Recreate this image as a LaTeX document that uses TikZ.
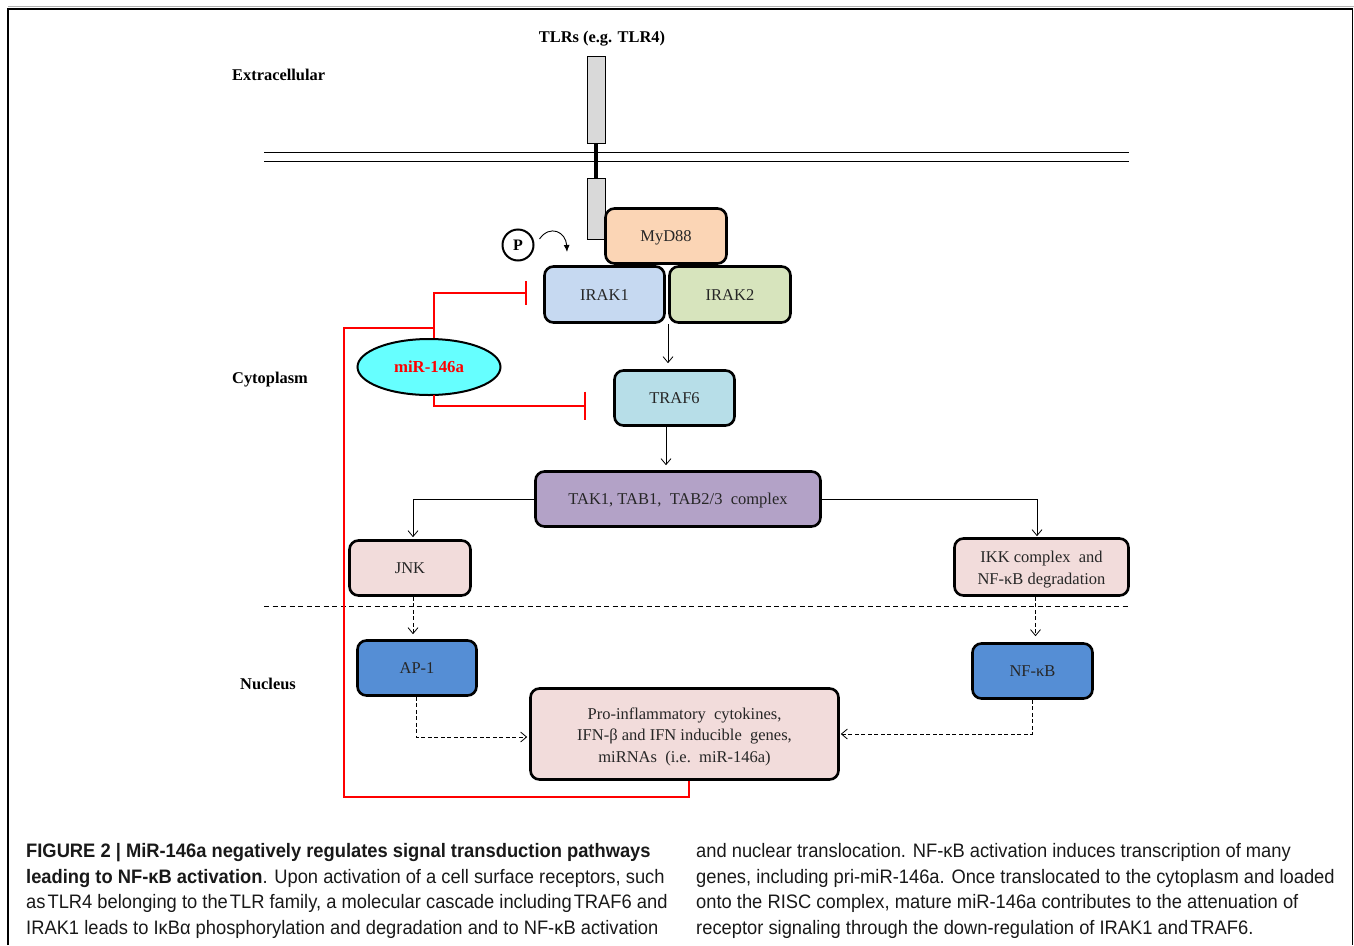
\documentclass[tikz,border=0pt]{standalone}
\usepackage{fontspec}
\setmainfont{Liberation Serif}
\newfontfamily\capfont[FakeStretch=0.94]{Liberation Sans}
\usetikzlibrary{arrows.meta,shapes.geometric,calc}
\definecolor{cmyd}{HTML}{FBD5B5}
\definecolor{cirak1}{HTML}{C6D9F1}
\definecolor{cirak2}{HTML}{D7E4BD}
\definecolor{ctraf}{HTML}{B7DEE8}
\definecolor{ctak}{HTML}{B3A2C7}
\definecolor{cpink}{HTML}{F2DCDB}
\definecolor{cblue}{HTML}{558ED5}
\definecolor{ccyan}{HTML}{66FFFF}
\definecolor{ctlr}{HTML}{D9D9D9}
\definecolor{cred}{HTML}{FF0000}
\begin{document}
\begin{tikzpicture}[x=1pt,y=-1pt,
  box/.style={draw, line width=2.6pt, rounded corners=9pt, inner sep=2pt, align=center,
    font=\fontsize{16.5}{21.5}\selectfont, text=black!85},
  oneline/.style={text height=11pt, text depth=0pt},
  arr/.style={line width=0.8pt, -{Straight Barb[length=6pt,width=10pt]}},
  darr/.style={arr, dash pattern=on 4pt off 2.5pt},
  redl/.style={draw=cred, line width=2pt},
  lbl/.style={font=\fontsize{16.4}{18}\selectfont\bfseries, anchor=west, inner sep=0, text height=11pt, text depth=0pt},
  tlr/.style={draw, line width=0.8pt, fill=ctlr, minimum width=18pt, inner sep=0},
  captxt/.style={font=\capfont\fontsize{19.5}{25}\selectfont, anchor=base west, inner sep=0, text=black!90}
]
\useasboundingbox (0,0) rectangle (1354,945);
% frame
\draw[gray!60, line width=1.5pt] (8,6.5) -- (1354,6.5);
\draw[line width=1.3pt] (8,945) -- (8,9) -- (1352.5,9) -- (1352.5,945);

% labels
\node[lbl, anchor=center] (tlrlbl) at (602,37) {TLRs (e.g. TLR4)};
\node[lbl] (extra) at (232,75) {Extracellular};
\node[lbl] (cyto) at (232,378) {Cytoplasm};
\node[lbl] (nucl) at (240,684) {Nucleus};

% membrane
\draw[line width=1pt] (264,152.5) -- (1129,152.5);
\draw[line width=1pt] (264,161) -- (1129,161);

% receptor
\node[tlr, minimum height=87pt] (tlrup) at (596,99.5) {};
\node[tlr, minimum height=61pt] (tlrlow) at (596,209) {};
\draw[line width=4pt] (tlrup.south) -- (tlrlow.north);

% boxes
\node[box, oneline, fill=cmyd, minimum width=121pt, minimum height=55pt] (myd) at (666,236) {MyD88};
\node[box, oneline, fill=cirak1, minimum width=120pt, minimum height=56pt] (irak1) at (604.5,294.5) {IRAK1};
\node[box, oneline, fill=cirak2, minimum width=121pt, minimum height=56pt] (irak2) at (730,294.5) {IRAK2};
\node[box, oneline, fill=ctraf, minimum width=120pt, minimum height=55pt] (traf) at (674.5,398) {TRAF6};
\node[box, oneline, fill=ctak, minimum width=285pt, minimum height=55pt] (tak) at (678,499) {TAK1, TAB1,\ \ TAB2/3\ \ complex};
\node[box, oneline, fill=cpink, minimum width=121pt, minimum height=55pt] (jnk) at (410,568) {JNK};
\node[box, fill=cpink, minimum width=174pt, minimum height=57pt] (ikk) at (1041.5,567) {\rule{0pt}{16.4pt}IKK complex\ \ and\\NF-κB degradation};
\node[box, oneline, fill=cblue, minimum width=119pt, minimum height=55pt] (ap1) at (417,668) {AP-1};
\node[box, oneline, fill=cblue, minimum width=120pt, minimum height=55pt] (nfkb) at (1032.5,671) {NF-κB};
\node[box, fill=cpink, minimum width=308pt, minimum height=91pt] (pro) at (684.5,734)
  {\rule{0pt}{17.2pt}Pro-inflammatory\ \ cytokines,\\IFN-β and IFN inducible\ \ genes,\\miRNAs\ \ (i.e.\ \ miR-146a)};

% P
\node[draw, circle, line width=2pt, minimum size=31pt, inner sep=0,
  font=\fontsize{16}{18}\selectfont\bfseries] (p) at (518,245) {P};
\coordinate (ptip) at (567,252);
\draw[line width=0.9pt, -{Latex[length=7pt,width=6pt]}] ([shift={(5,-6)}]p.east) .. controls (550,224) and (566,232) .. (ptip);

% miR-146a
\node[draw, ellipse, line width=2pt, fill=ccyan, minimum width=143pt, minimum height=56pt, inner sep=0,
  text=cred, font=\fontsize{16.8}{18}\selectfont\bfseries, text height=11pt, text depth=0pt] (mir) at (429,367) {miR-146a};

% cascade arrows
\coordinate (irakj) at (668,324);
\draw[arr, shorten >=6pt] (irakj) -- (irakj |- traf.north);
\draw[arr, shorten >=5pt] ([xshift=-8.5]traf.south) -- ([xshift=-8.5]traf.south |- tak.north);
\draw[arr, shorten >=2pt] (tak.west) -| ([xshift=3]jnk.north);
\draw[arr, shorten >=1pt] (tak.east) -| ([xshift=-4.5]ikk.north);

% nucleus border
\draw[line width=1pt, dash pattern=on 5pt off 3.5pt] (264,606) -- (1130,606);

% dashed arrows
\draw[darr, shorten >=5pt] ([xshift=3]jnk.south) -- ([xshift=3]jnk.south |- ap1.north);
\draw[darr, shorten >=6pt] ([xshift=-6]ikk.south) -- ([xshift=-6]ikk.south |- nfkb.north);
\draw[darr, shorten >=2pt] ([xshift=-1]ap1.south) |- ([yshift=-3]pro.west);
\draw[darr, shorten >=1pt] (nfkb.south) |- (pro.east);

% red inhibition
\coordinate (rb) at (344,797);
\coordinate (rj) at (433.5,328);
\coordinate (irakbar) at (527,293);
\coordinate (trafbar) at (586,405.5);
\draw[redl] ([xshift=4.5]pro.south) |- (rb) |- (rj) -- (rj |- mir.north);
\draw[redl, -{Bar[width=24pt]}] (rj) |- (irakbar);
\draw[redl, -{Bar[width=28pt]}] ([yshift=1]rj |- mir.south) |- (trafbar);

% caption
\node[captxt] (c1) at (26,857) {\bfseries FIGURE 2 | MiR-146a negatively regulates signal transduction pathways};
\node[captxt] (c2) at (26,883) {\textbf{leading to NF-κB activation}. Upon activation of a cell surface receptors, such};
\node[captxt] (c3) at (26,908) {as\kern2pt TLR4 belonging to the\kern2pt TLR family, a molecular cascade including\kern2pt TRAF6 and};
\node[captxt] (c4) at (26,934) {IRAK1 leads to IκBα phosphorylation and degradation and to NF-κB activation};
\node[captxt] (d1) at (696,857) {and nuclear translocation. NF-κB activation induces transcription of many};
\node[captxt] (d2) at (696,883) {genes, including pri-miR-146a. Once translocated to the cytoplasm and loaded};
\node[captxt] (d3) at (696,908) {onto the RISC complex, mature miR-146a contributes to the attenuation of};
\node[captxt] (d4) at (696,934) {receptor signaling through the down-regulation of IRAK1 and\kern2pt TRAF6.};
\end{tikzpicture}
\end{document}
